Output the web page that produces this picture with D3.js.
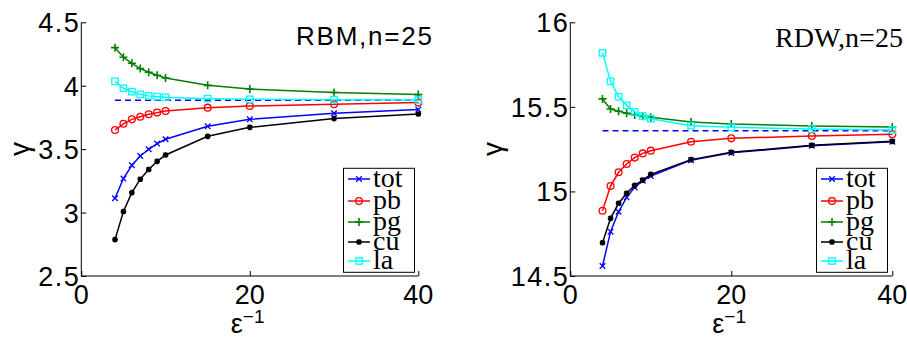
<!DOCTYPE html>
<html>
<head>
<meta charset="utf-8">
<script src="https://cdn.jsdelivr.net/npm/d3@7"></script>
<style>
  html, body { margin: 0; padding: 0; background: #fff; }
  svg { display: block; }
</style>
</head>
<body>
<div id="chart"></div>
<script>
// x values: inverse epsilon
const xVals = [4, 5, 6, 7, 8, 9, 10, 15, 20, 30, 40];
const seriesNames = ['tot', 'pb', 'pg', 'cu', 'la'];

// RBM, n=25
const rbmTot = [3.113, 3.268, 3.373, 3.446, 3.499, 3.544, 3.578, 3.680, 3.735, 3.783, 3.812];
const rbmPb  = [3.651, 3.700, 3.735, 3.756, 3.775, 3.788, 3.801, 3.827, 3.840, 3.854, 3.867];
const rbmPg  = [4.300, 4.224, 4.177, 4.135, 4.106, 4.082, 4.061, 4.003, 3.974, 3.946, 3.930];
const rbmCu  = [2.787, 3.008, 3.157, 3.263, 3.339, 3.404, 3.454, 3.601, 3.672, 3.741, 3.777];
const rbmLa  = [4.035, 3.980, 3.953, 3.932, 3.920, 3.914, 3.909, 3.898, 3.893, 3.890, 3.888];
const rbmRef = 3.885;
const rbmYTicks = [2.5, 3, 3.5, 4, 4.5];

// RDW, n=25
const rdwTot = [14.559, 14.762, 14.880, 14.965, 15.024, 15.063, 15.091, 15.185, 15.228, 15.270, 15.294];
const rdwPb  = [14.886, 15.032, 15.113, 15.162, 15.200, 15.225, 15.241, 15.294, 15.314, 15.328, 15.338];
const rdwPg  = [15.547, 15.487, 15.474, 15.462, 15.452, 15.444, 15.438, 15.411, 15.399, 15.387, 15.381];
const rdwCu  = [14.697, 14.841, 14.930, 14.989, 15.036, 15.067, 15.101, 15.188, 15.231, 15.273, 15.296];
const rdwLa  = [15.819, 15.651, 15.560, 15.509, 15.470, 15.446, 15.430, 15.389, 15.379, 15.369, 15.363];
const rdwRef = 15.359;
const rdwYTicks = [14.5, 15, 15.5, 16];

const xTicks = [0, 20, 40];

const colors = { tot: '#0000ff', pb: '#ff0000', pg: '#008000', cu: '#000000', la: '#00ffff' };
const sans = '"Liberation Sans", Arial, Helvetica, sans-serif';
const serif = '"Liberation Serif", "Times New Roman", serif';

const svg = d3.select('#chart').append('svg')
  .attr('width', 907)
  .attr('height', 338);

// marker shapes
function drawMarker(g, name, cx, cy, color) {
  if (name === 'tot') {
    const s = 2.8;
    g.append('path')
      .attr('d', `M${cx - s},${cy - s}L${cx + s},${cy + s}M${cx - s},${cy + s}L${cx + s},${cy - s}`)
      .attr('stroke', color).attr('stroke-width', 1.3).attr('fill', 'none');
  } else if (name === 'pb') {
    g.append('circle').attr('cx', cx).attr('cy', cy).attr('r', 3.4)
      .attr('stroke', color).attr('stroke-width', 1.3).attr('fill', 'none');
  } else if (name === 'pg') {
    const s = 4;
    g.append('path')
      .attr('d', `M${cx - s},${cy}L${cx + s},${cy}M${cx},${cy - s}L${cx},${cy + s}`)
      .attr('stroke', color).attr('stroke-width', 1.6).attr('fill', 'none');
  } else if (name === 'cu') {
    const s = 2.8, d = 2.1;
    g.append('path')
      .attr('d', `M${cx - s},${cy}L${cx + s},${cy}M${cx},${cy - s}L${cx},${cy + s}` +
                 `M${cx - d},${cy - d}L${cx + d},${cy + d}M${cx - d},${cy + d}L${cx + d},${cy - d}`)
      .attr('stroke', color).attr('stroke-width', 1.8).attr('fill', 'none');
  } else if (name === 'la') {
    const s = 3.2;
    g.append('rect').attr('x', cx - s).attr('y', cy - s).attr('width', 2 * s).attr('height', 2 * s)
      .attr('stroke', color).attr('stroke-width', 1.3).attr('fill', 'none');
  }
}

function drawPanel(cfg) {
  const g = svg.append('g');
  const x = d3.scaleLinear().domain([0, 40]).range([cfg.left, cfg.right]);
  const y = d3.scaleLinear().domain(cfg.yDomain).range([276, 22.3]);

  // axes (ticks pointing inward, no box)
  const yAxis = g.append('g')
    .attr('transform', `translate(${cfg.left},0)`)
    .call(d3.axisRight(y).tickValues(cfg.yTicks).tickSize(5).tickFormat(''));
  yAxis.select('.domain').attr('d', `M0,22.3V276`);

  const xAxis = g.append('g')
    .attr('transform', 'translate(0,276)')
    .call(d3.axisTop(x).tickValues(xTicks).tickSize(5).tickFormat(''));
  xAxis.select('.domain').attr('d', `M${cfg.left},0H${cfg.right}`);

  g.selectAll('.domain, .tick line').attr('stroke', '#000').attr('stroke-width', 1);

  // tick labels
  g.selectAll('.ylab').data(cfg.yTicks).enter().append('text')
    .attr('x', cfg.left - 1)
    .attr('y', d => y(d) + 10)
    .attr('text-anchor', 'end')
    .style('font-family', sans)
    .style('font-size', '27px')
    .style('letter-spacing', '1.5px')
    .text(d => d3.format('')(d));

  g.selectAll('.xlab').data(xTicks).enter().append('text')
    .attr('x', d => x(d))
    .attr('y', 304)
    .attr('text-anchor', 'middle')
    .style('font-family', sans)
    .style('font-size', '27px')
    .text(d => d);

  // axis titles
  g.append('text')
    .attr('transform', `translate(${cfg.gammaX},149) rotate(-90)`)
    .attr('text-anchor', 'middle')
    .style('font-family', sans)
    .style('font-size', '28px')
    .text('γ');

  const xt = g.append('text')
    .attr('x', x(20) - 19)
    .attr('y', 333)
    .style('font-family', sans)
    .style('font-size', '27px');
  xt.append('tspan').text('ε');
  xt.append('tspan').attr('dy', -10).style('font-size', '19px').text('−1');

  // reference dashed line
  g.append('line')
    .attr('x1', x(xVals[0])).attr('x2', x(xVals[xVals.length - 1]))
    .attr('y1', y(cfg.ref)).attr('y2', y(cfg.ref))
    .attr('stroke', '#0000ff').attr('stroke-width', 1.5)
    .attr('stroke-dasharray', '6,4');

  // series
  const line = d3.line().x((d, i) => x(xVals[i])).y(d => y(d));
  seriesNames.forEach((name, k) => {
    const vals = cfg.series[k];
    g.append('path')
      .attr('d', line(vals))
      .attr('fill', 'none')
      .attr('stroke', colors[name])
      .attr('stroke-width', 1.5);
    const mg = g.append('g');
    vals.forEach((v, i) => drawMarker(mg, name, x(xVals[i]), y(v), colors[name]));
  });

  // title
  g.append('text')
    .attr('x', cfg.titleRight)
    .attr('y', cfg.titleY)
    .attr('text-anchor', 'end')
    .attr('textLength', cfg.titleLen)
    .attr('lengthAdjust', 'spacing')
    .style('font-family', cfg.titleFont)
    .style('font-size', cfg.titleSize)
    .text(cfg.title);

  // legend
  const lg = g.append('g');
  lg.append('rect')
    .attr('x', cfg.legX).attr('y', 168.3)
    .attr('width', 71).attr('height', 104)
    .attr('fill', '#fff').attr('stroke', '#000').attr('stroke-width', 1);
  const rowY = [179, 201, 222, 242, 261];
  seriesNames.forEach((name, k) => {
    const ly = rowY[k];
    lg.append('line')
      .attr('x1', cfg.legX + 4.5).attr('x2', cfg.legX + 26.5)
      .attr('y1', ly).attr('y2', ly)
      .attr('stroke', colors[name]).attr('stroke-width', 1.5);
    drawMarker(lg, name, cfg.legX + 15.5, ly, colors[name]);
    lg.append('text')
      .attr('x', cfg.legX + 29.5)
      .attr('y', ly + 8)
      .style('font-family', serif)
      .style('font-size', '28px')
      .text(name);
  });
}

drawPanel({
  left: 81.3, right: 418.3,
  yDomain: [2.5, 4.5], yTicks: rbmYTicks,
  series: [rbmTot, rbmPb, rbmPg, rbmCu, rbmLa], ref: rbmRef,
  gammaX: 29,
  title: 'RBM,n=25', titleRight: 432, titleY: 45, titleFont: sans, titleSize: '26px', titleLen: 136,
  legX: 343.5
});

drawPanel({
  left: 570.3, right: 892.3,
  yDomain: [14.5, 16], yTicks: rdwYTicks,
  series: [rdwTot, rdwPb, rdwPg, rdwCu, rdwLa], ref: rdwRef,
  gammaX: 502,
  title: 'RDW,n=25', titleRight: 903, titleY: 47, titleFont: serif, titleSize: '28px', titleLen: 128,
  legX: 816.5
});
</script>
</body>
</html>
